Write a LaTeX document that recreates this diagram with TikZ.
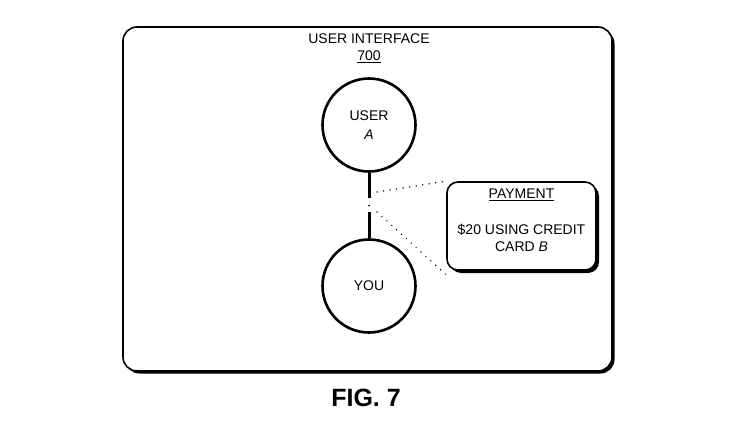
\documentclass[tikz,border=0pt]{standalone}
\usepackage{fontspec}
\setmainfont{Liberation Sans}
\usetikzlibrary{shadows}
\begin{document}
\begin{tikzpicture}[x=1pt,y=-1pt,
  frame/.style={draw=black,line width=1.6pt,rounded corners=14pt,fill=white,
    drop shadow={shadow xshift=2.5pt,shadow yshift=-2.5pt,fill=black,opacity=1}},
  paybox/.style={draw=black,line width=1.6pt,rounded corners=11pt,fill=white,
    drop shadow={shadow xshift=3pt,shadow yshift=-3pt,fill=black,opacity=1}},
  usercirc/.style={circle,draw=black,line width=2.6pt,minimum size=93pt,inner sep=0pt,font=\fontsize{14}{19}\selectfont,align=center},
  lbl/.style={font=\fontsize{14}{17.5}\selectfont,align=center,inner sep=0pt},
  link/.style={line width=3pt},
  dots/.style={line width=1.5pt,dash pattern=on 0.1pt off 6.5pt,line cap=round}]
\useasboundingbox (0,0) rectangle (736,428);
\node[frame,minimum width=489pt,minimum height=344pt,inner sep=0pt] (ui) at (367.5,199) {};
\node[lbl] (title) at (369,48) {USER INTERFACE\\\underline{700}};
\node[usercirc] (ua) at (369,125) {USER\\\textit{A}};
\node[usercirc] (you) at (369,286) {YOU};
\coordinate (g1) at (369,198);
\coordinate (gd) at (369,205.5);
\coordinate (g2) at (369,212);
\draw[link] (ua.south) -- (g1);
\draw[link] (g2) -- (you.north);
\fill (gd) circle (1pt);
\node[paybox,minimum width=149pt,minimum height=88pt,inner sep=0pt] (pay) at (521.5,226) {};
\node[lbl] (payt) at (521.5,195) {\underline{PAYMENT}};
\node[lbl] (payb) at (521.5,238) {\$20 USING CREDIT\\CARD \textit{B}};
\coordinate (d1) at (377,192);
\coordinate (d2) at (377,212);
\draw[dots] (d1) -- (pay.north west);
\draw[dots] (d2) -- ([yshift=-4pt]pay.south west);
\node[font=\bfseries\fontsize{25}{28}\selectfont,inner sep=0pt] (fig) at (366,398) {FIG. 7};
\end{tikzpicture}
\end{document}
